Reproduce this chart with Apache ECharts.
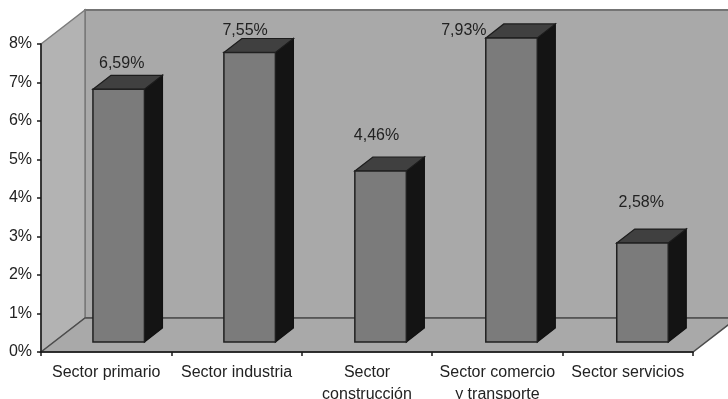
<!DOCTYPE html>
<html>
<head>
<meta charset="utf-8">
<style>
html,body{margin:0;padding:0;background:#fff;overflow:hidden}
#main{width:728px;height:399px;filter:blur(0.55px)}
</style>
<script src="https://cdn.jsdelivr.net/npm/echarts@6/dist/echarts.min.js"></script>
</head>
<body>
<div id="main"></div>
<script>
var categories = ['Sector primario', 'Sector industria', 'Sector\nconstrucción', 'Sector comercio\ny transporte', 'Sector servicios'];
var values = [6.59, 7.55, 4.46, 7.93, 2.58];
var valueLabels = ['6,59%', '7,55%', '4,46%', '7,93%', '2,58%'];
var labelNudgeX = [3, -4, -3, -46, 1];
var labelNudgeY = [-26, -22, -35, -7, -40];

var FONT = '"Liberation Sans", Arial, sans-serif';
var WALL_DX = 44, WALL_DY = 34;
var BAR_SHIFT_X = 12.5, BAR_SHIFT_Y = 10, BAR_DRIFT = 0.55, BAR_HEIGHT_RATIO = 0.996;
var BAR_DX = 18, BAR_DY = 14;

function wallsItem(params, api) {
  var c = params.coordSys;
  var l = c.x, r = c.x + c.width, t = c.y, b = c.y + c.height;
  var dx = WALL_DX, dy = WALL_DY;
  return {
    type: 'group',
    children: [
      {type: 'polygon', shape: {points: [[l + dx, t - dy], [r + dx, t - dy], [r + dx, b - dy], [l + dx, b - dy]]},
        style: {fill: '#a9a9a9', stroke: '#747474', lineWidth: 2}},
      {type: 'polygon', shape: {points: [[l, t], [l + dx, t - dy], [l + dx, b - dy], [l, b]]},
        style: {fill: '#b3b3b3', stroke: '#7c7c7c', lineWidth: 1.5}},
      {type: 'polygon', shape: {points: [[l, b], [l + dx, b - dy], [r + dx, b - dy], [r, b]]},
        style: {fill: '#a9a9a9', stroke: '#4c4c4c', lineWidth: 1.5}}
    ]
  };
}

function barItem(params, api) {
  var i = api.value(0);
  var top = api.coord([i, api.value(1)]);
  var base = api.coord([i, 0]);
  var w = api.size([1, 0])[0] * 0.395;
  var x0 = top[0] + BAR_SHIFT_X + BAR_DRIFT * i - w / 2, x1 = x0 + w;
  var yB = base[1] - BAR_SHIFT_Y;
  var yT = yB - (base[1] - top[1]) * BAR_HEIGHT_RATIO;
  var dx = BAR_DX, dy = BAR_DY;
  var edge = '#202020';
  return {
    type: 'group',
    children: [
      {type: 'polygon', shape: {points: [[x1, yT], [x1 + dx, yT - dy], [x1 + dx, yB - dy], [x1, yB]]},
        style: {fill: '#141414', stroke: '#111111', lineWidth: 1.2}},
      {type: 'polygon', shape: {points: [[x0, yT], [x0 + dx, yT - dy], [x1 + dx, yT - dy], [x1, yT]]},
        style: {fill: '#404040', stroke: '#1c1c1c', lineWidth: 1.2}},
      {type: 'rect', shape: {x: x0, y: yT, width: w, height: yB - yT},
        style: {fill: '#7b7b7b', stroke: edge, lineWidth: 1.5}},
      {type: 'text', x: top[0] + BAR_SHIFT_X + labelNudgeX[i], y: yT + labelNudgeY[i],
        style: {text: valueLabels[i], fill: '#222222', font: '16px ' + FONT, align: 'center', verticalAlign: 'middle'}}
    ]
  };
}

var chart = echarts.init(document.getElementById('main'), null, {renderer: 'canvas'});
chart.setOption({
  animation: false,
  backgroundColor: '#ffffff',
  grid: {left: 41, right: 35, top: 44, bottom: 47, outerBoundsMode: 'none'},
  xAxis: {
    type: 'category',
    data: categories,
    z: 10,
    axisLine: {lineStyle: {color: '#1a1a1a', width: 1.5}},
    axisTick: {show: true, alignWithLabel: false, length: 4, lineStyle: {color: '#1a1a1a', width: 1.5}},
    axisLabel: {color: '#222222', fontFamily: FONT, fontSize: 16, lineHeight: 22, margin: 10, interval: 0, hideOverlap: false}
  },
  yAxis: {
    type: 'value',
    min: 0,
    max: 8,
    interval: 1,
    z: 10,
    splitLine: {show: false},
    axisLine: {show: true, lineStyle: {color: '#1a1a1a', width: 1.5}},
    axisTick: {show: true, length: 4, lineStyle: {color: '#1a1a1a', width: 1.5}},
    axisLabel: {color: '#222222', fontFamily: FONT, fontSize: 16, margin: 9, formatter: '{value}%'}
  },
  series: [
    {type: 'custom', coordinateSystem: 'cartesian2d', clip: false, z: 1, data: [[0, 0]], renderItem: wallsItem, silent: true},
    {type: 'custom', coordinateSystem: 'cartesian2d', clip: false, z: 2,
      data: values.map(function (v, i) { return [i, v]; }), encode: {x: 0, y: 1}, renderItem: barItem}
  ]
});
</script>
</body>
</html>
